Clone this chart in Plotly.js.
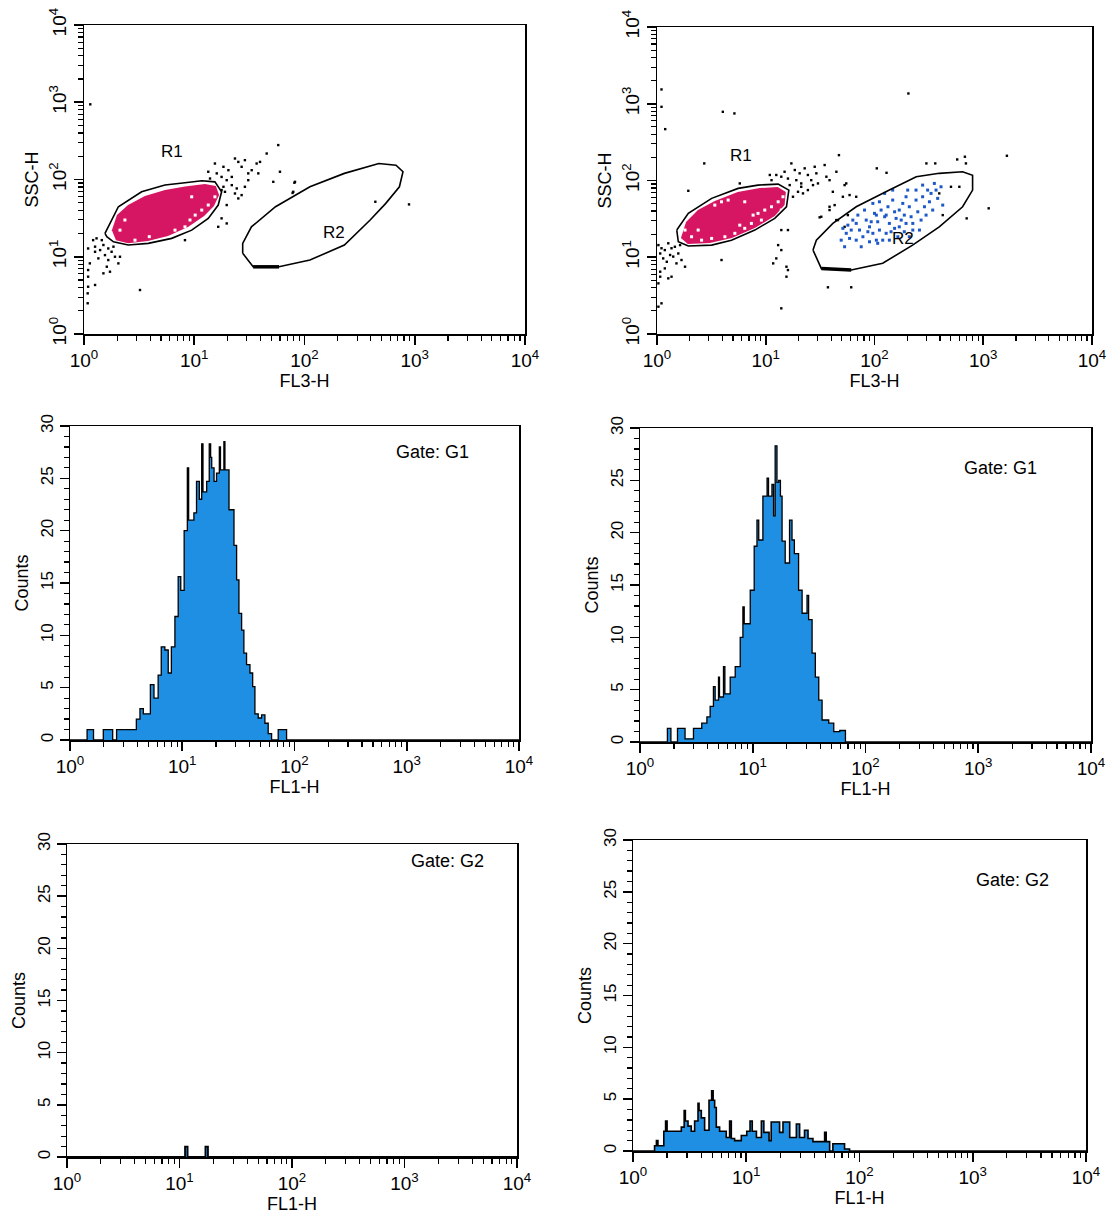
<!DOCTYPE html>
<html><head><meta charset="utf-8">
<script src="https://cdn.plot.ly/plotly-3.0.1.min.js"></script>
<style>html,body{margin:0;padding:0;background:#fff}#chart{width:1119px;height:1214px}</style>
</head><body><div id="chart"></div>
<script>
// ---------- tick labels ----------
const DECADE_VALS = [1, 10, 100, 1000, 10000];
const DECADE_TEXT = ['10<sup>0</sup>', '10<sup>1</sup>', '10<sup>2</sup>', '10<sup>3</sup>', '10<sup>4</sup>'];
const COUNT_VALS = [0, 5, 10, 15, 20, 25, 30];
const COUNT_TEXT = ['0', '5', '10', '15', '20', '25', '30'];
const GATE_LABELS = ['Gate: G1', 'Gate: G1', 'Gate: G2', 'Gate: G2'];

// ---------- panel 1 (FL3-H vs SSC-H) ----------
const P1_R1_X = [1.55, 2.05, 3.33, 5.43, 8.24, 11.7, 15.4, 17.7, 16.5, 13.4, 9.48, 6.24, 3.83, 2.52, 1.85, 1.61];
const P1_R1_Y = [20.1, 44.4, 69.3, 84.7, 90.6, 96.2, 93.3, 69.3, 46.7, 31.4, 22.1, 17.3, 14.9, 14.2, 15.6, 18.2];
const P1_R2_X = [27.5, 34.2, 58.7, 112, 230, 394, 546, 726, 782, 676, 472, 230, 112, 54.6, 33.0, 27.5];
const P1_R2_Y = [11.1, 7.41, 7.41, 9.06, 14.2, 29.9, 49.1, 80.5, 126, 153, 161, 120, 80.5, 44.4, 24.4, 14.9];
const P1_CORE_X = [1.79, 1.99, 2.51, 3.57, 5.43, 8.24, 12.5, 15.7, 16.8, 15.1, 12.3, 8.77, 5.78, 3.80, 2.51, 1.95];
const P1_CORE_Y = [22.1, 34.6, 46.7, 61.0, 72.9, 80.9, 87.2, 82.2, 62.8, 45.3, 33.6, 24.2, 18.5, 16.0, 15.0, 16.4];
const P1_GAP_X = [10.2, 11.7, 13.4, 9.15, 15.4, 6.69, 3.91, 2.35, 2.12, 2.90, 9.48, 8.24];
const P1_GAP_Y = [34.6, 40.2, 46.7, 29.9, 59.7, 22.1, 18.2, 29.9, 22.1, 16.4, 59.7, 24.4];
const P1_DOT_X = [15.4, 18.4, 20.4, 23.4, 25.1, 26.9, 28.8, 30.9, 33.2, 36.8, 38.1, 39.5, 45.4, 57.8, 59.9, 52.1, 82, 79.1,
  17.7, 19.7, 21.9, 24.3, 26.9, 25.1, 19.7, 17.7, 16.5, 19.7, 8.24, 13.4, 13.9, 16.0, 21.9, 30.9, 28.8, 23.4, 17.7, 19, 18.4,
  1.09, 1.21, 1.30, 1.26, 1.40, 1.50, 1.35, 1.55, 1.66, 1.78, 1.91, 1.61, 1.72, 1.50, 1.13, 1.09, 1.09, 1.09, 1.08, 1.08,
  1.26, 2.05, 2.12, 1.66, 3.22, 1.26, 1.45, 1.85, 1.14, 887, 81, 78, 439];
const P1_DOT_Y = [161, 146, 132, 187, 169, 146, 178, 120, 132, 161, 120, 169, 217, 279, 126, 93.3, 93.3, 69.3,
  108, 98, 84.5, 76.6, 62.8, 56.9, 46.7, 31.4, 24.4, 27.0, 16.4, 126, 103, 120, 108, 98, 80.5, 65.9, 73, 69.3, 80.5,
  12.8, 16.4, 17.3, 11.6, 12.2, 14.2, 9.53, 10.5, 9.06, 11.6, 10, 7.43, 6.40, 6.10, 8.21, 6.73, 5.52, 4.09, 3.36, 2.50,
  4.31, 8.21, 10, 12.8, 3.71, 13.5, 16.4, 13.5, 940, 47.6, 90.7, 67, 51.5];
const P1_LABELS = ['R1', 'R2'];
const P1_LABEL_X = [6.24, 185];
const P1_LABEL_Y = [228, 20.3];

// ---------- panel 2 (FL3-H vs SSC-H) ----------
const P2_R1_X = [1.52, 1.94, 3.18, 5.57, 8.49, 13.0, 16.3, 15.5, 12.1, 7.93, 4.84, 3.18, 1.94, 1.57];
const P2_R1_Y = [22.6, 37.3, 58.5, 78.9, 87.1, 89.7, 75.0, 45.5, 32.1, 22.6, 16.7, 14.4, 14.0, 15.9];
const P2_R2_X = [27.2, 32.4, 61.1, 119, 224, 394, 646, 798, 798, 646, 394, 242, 137, 67.9, 41.4, 29.2];
const P2_R2_Y = [12.4, 7.16, 6.81, 8.34, 14.4, 24.9, 45.5, 75.0, 117, 130, 124, 112, 75.0, 45.5, 27.6, 16.7];
const P2_CORE_X = [1.66, 1.85, 2.38, 3.40, 5.53, 8.81, 12.9, 15.3, 14.9, 12.1, 7.93, 4.88, 3.06, 1.92];
const P2_CORE_Y = [17.8, 28.7, 41.2, 53.9, 70.6, 79.6, 82.0, 70.6, 47.8, 34.4, 24.0, 17.8, 15.3, 14.9];
const P2_GAP_X = [8.49, 9.79, 11.3, 13.0, 9.12, 7.38, 6.41, 5.20, 4.21, 3.18, 2.57, 2.08, 1.81, 2.39, 3.40, 3.92, 4.51,
  6.41, 13.9, 14.4, 7.65, 5.77];
const P2_GAP_Y = [37.3, 41.2, 45.5, 52.8, 30.5, 27.6, 23.8, 20.5, 18.5, 17.6, 16.7, 18.5, 22.6, 22.6, 47.8, 52.8, 55.6,
  52.8, 41.2, 61.4, 35.4, 26.2];
const P2_DOT_X = [11.3, 12.5, 13.9, 14.9, 16.0, 17.2, 18.5, 19.1, 20.5, 21.2, 22.8, 24.4, 26.2, 28.2, 29.2, 30.2, 34.8, 36.1,
  38.6, 44.6, 19.8, 22.0, 24.4, 17.8, 21.2, 27.2, 10.9, 16.6,
  2.72, 1.94, 5.77, 47.1, 53.1, 59.0, 67.9, 31.3, 38.6, 43.0, 46.1, 53.1, 13.9, 16.0, 13.0, 13.9, 12.5, 11.7, 15.5, 16.0,
  15.5, 13.9, 3.92, 37.3, 61.1,
  1.03, 1.10, 1.07, 1.18, 1.27, 1.36, 1.14, 1.23, 1.41, 1.51, 1.57, 1.68, 1.81, 1.18, 1.07, 1.07, 1.27, 1.36, 1.03, 1.10,
  1.03, 1.46, 1.63, 1.32,
  1.10, 1.19, 1.10, 4.03, 5.15, 205, 1650, 1122, 704, 576, 678, 300, 362, 105, 129, 693,
  41.4, 51.2, 55, 38.6, 32.4, 44.5, 56.9, 394, 424, 505, 603];
const P2_DOT_Y = [101, 118, 112, 130, 106, 167, 137, 101, 124, 91.6, 144, 118, 101, 151, 124, 91.6, 159, 112,
  101, 130, 71.3, 67.9, 75, 61.4, 82.8, 87.1, 118, 87.1,
  167, 73.4, 91.6, 214, 87.1, 64.6, 61.4, 33.1, 41.2, 47.8, 30.5, 24.9, 22.6, 22.6, 14.4, 12.4, 9.66, 8.32, 7.53, 6.81,
  5.58, 2.16, 9.2, 4.06, 4.06,
  14.4, 13.1, 11.2, 12.4, 15.2, 13.1, 9.66, 8.73, 10.2, 8.32, 11.2, 9.2, 7.53, 7.16, 6.48, 5.58, 5.31, 5.58, 4.57, 2.51,
  2.27, 13.7, 14.4, 10.7,
  1536, 467, 912, 785, 748, 1361, 210, 43.4, 32.1, 188, 204, 167, 167, 144, 126, 167,
  71.3, 61.4, 91.6, 45.5, 33.7, 30.5, 35.4, 67.9, 35.4, 82.8, 82.8];
const P2_BLUE_X = [51.2, 55.0, 59.0, 67.9, 72.8, 78.2, 83.9, 90.0, 96.6, 100, 107, 111, 119, 124, 133, 137, 142, 153, 158,
  169, 182, 188, 195, 209, 217, 225, 241, 250, 268, 277, 288, 298, 320, 331, 343, 368, 381, 409, 424, 111, 96.6, 81.0,
  70.3, 63.2, 56.9, 49.4, 53.1, 75.5, 90.0, 107, 137, 164, 188, 225, 259, 195, 169, 147, 128, 115, 104, 86.9, 67.9, 61.1,
  308, 241, 202, 277, 355, 147, 124, 176, 153, 104, 93.3, 128, 209];
const P2_BLUE_Y = [23.8, 20.5, 17.6, 27.6, 22.6, 18.5, 30.5, 24.9, 20.5, 37.3, 29.0, 22.6, 16.7, 33.7, 45.5, 27.6, 21.5,
  39.1, 32.1, 24.9, 50.3, 35.4, 27.6, 45.5, 33.7, 22.6, 55.6, 39.1, 30.5, 61.4, 45.5, 35.4, 52.8, 67.9, 41.2, 75.0, 58.5,
  82.8, 47.8, 52.8, 50.3, 41.2, 35.4, 30.5, 26.2, 16.7, 13.7, 13.7, 15.9, 15.2, 16.7, 18.5, 21.5, 27.6, 22.6, 61.4, 41.2,
  55.6, 20.5, 41.2, 16.7, 21.5, 16.7, 22.6, 75.0, 75.0, 75.0, 87.1, 91.6, 75.0, 67.9, 30.5, 23.8, 35.4, 29.0, 35.4, 18.5];
const P2_LABELS = ['R1', 'R2'];
const P2_LABEL_X = [5.98, 181];
const P2_LABEL_Y = [214, 17.8];

// ---------- histograms (FL1-H vs Counts) ----------
const H1_X = [1, 1.42, 1.62, 1.98, 2.4, 2.6, 3.9, 4.2, 4.5, 5.2, 5.6, 6.1, 6.5, 7.0, 7.5, 8.0, 8.6, 9.2, 9.7, 10.4,
  11.1, 11.4, 11.9, 12.7, 13.4, 14.2, 14.9, 15.3, 16.5, 17.4, 17.9, 18.3, 19.2, 20.2, 21.4, 21.9, 22.4, 23.5, 24.0, 26.1,
  28.9, 30.5, 32.0, 33.8, 35.4, 37.4, 40.1, 42.4, 44.4, 47.5, 50.9, 54.5, 58.3, 62.5, 71.6, 85, 10000];
const H1_Y = [0, 1, 0, 1, 0, 1, 2, 3, 2.5, 5.3, 4, 6.2, 8.9, 8.6, 6.4, 8.9, 11.8, 15.6, 14.3, 20,
  26, 21, 21, 21.7, 24.7, 23, 28.3, 23.7, 24.7, 28.3, 27, 26, 24.7, 25.5, 28, 25.8, 25.8, 28.5, 25.8, 22,
  18.6, 15.3, 12.1, 10.5, 8.3, 7.2, 6.4, 5.1, 2.5, 2.1, 2.4, 1.6, 0.6, 0, 1, 0, 0];
const H2_X = [1, 1.75, 1.88, 2.15, 2.51, 2.98, 3.53, 3.92, 4.19, 4.48, 4.64, 4.97, 5.07, 5.5, 5.66, 6.31, 6.99, 7.74,
  8.18, 8.4, 9.5, 10.3, 10.9, 11.3, 12.3, 13.4, 13.8, 14.8, 15.3, 15.8, 16.4, 17.0, 17.6, 18.2, 19.4, 21.2, 22.3, 23.4,
  25.5, 27.4, 30.3, 31.3, 33.6, 35.9, 38.5, 41.2, 45.6, 47.2, 52.3, 59.1, 66.4, 10000];
const H2_Y = [0, 1.3, 0, 1.3, 0.3, 1.3, 1.8, 2.4, 3.4, 5.3, 4, 6.2, 4.3, 7.2, 4.6, 6.2, 7.2, 10,
  12.9, 11.3, 14.5, 18.7, 21.2, 19.3, 23.5, 25.2, 23.5, 24.6, 21.6, 28.3, 24.8, 25, 23.5, 19.2, 17.1, 21.2, 19.3, 18,
  14.5, 12.3, 14, 11.7, 8.5, 6.2, 4, 2.1, 2.1, 1.8, 1, 1.1, 0, 0];
const H3_X = [1, 11.2, 11.8, 17.0, 17.9, 10000];
const H3_Y = [0, 1, 0, 1, 0, 0];
const H4_X = [1, 1.55, 1.61, 1.66, 1.87, 1.94, 2.0, 2.67, 2.83, 2.9, 3.06, 3.27, 3.5, 3.75, 3.83, 4.01, 4.29, 4.69, 4.95,
  5.1, 5.26, 5.44, 5.82, 6.66, 7.13, 7.38, 7.89, 9.04, 10.1, 10.8, 11.3, 12.3, 13.6, 14.3, 15.9, 16.6, 19.7, 21.1, 24.2,
  27.7, 29.6, 32.7, 35.1, 38.8, 49.2, 50.8, 54.5, 58.2, 73.8, 81.7, 10000];
const H4_Y = [0, 0.5, 1, 0.5, 1.9, 2.9, 1.9, 2.3, 3.9, 2.9, 2.4, 1.9, 2.9, 4.6, 3.9, 3.2, 2, 4.9, 5.8,
  4.9, 4.2, 2.3, 1.9, 1.3, 2.9, 1.2, 1, 1.5, 1.9, 2.9, 1.9, 1.3, 2.9, 1.8, 1, 2.8, 1.8, 2.8, 1.3,
  2.6, 1.3, 2, 1.2, 0.9, 1.8, 0.9, 0, 0.7, 0.2, 0, 0];

// ---------- styling / layout ----------
const W = 1119, H = 1214;
const FONT = 'Arial, "Liberation Sans", sans-serif';
const PINK = 'rgb(214,22,98)';
const BLUEDOT = 'rgb(28,88,200)';
const HISTBLUE = 'rgb(30,143,226)';
// pixel boxes [left, right, top, bottom]
const BOX = [[84, 525, 25, 334], [657, 1092, 27, 334], [70, 519, 426, 740],
             [640, 1091, 428, 742], [67, 517, 844, 1157], [633, 1086, 840, 1151]];
const GATE_POS = [[432, 452], [1000, 468], [447, 861], [1012, 880]];

const MINOR_LOG = [];
[1, 10, 100, 1000].forEach(d => { for (let k = 2; k <= 9; k++) MINOR_LOG.push(k * d); });

function axName(i) { return i === 1 ? '' : String(i); }
function closed(a) { return a.concat([a[0]]); }

const traces = [];
function scatterPanel(i, core, gap, r1, r2, dots, blue) {
  const xa = 'x' + axName(i), ya = 'y' + axName(i);
  traces.push({x: core[0], y: core[1], xaxis: xa, yaxis: ya, mode: 'none', fill: 'toself',
    fillcolor: PINK, hoverinfo: 'skip', showlegend: false});
  traces.push({x: gap[0], y: gap[1], xaxis: xa, yaxis: ya, mode: 'markers',
    marker: {color: '#fff', size: 3, symbol: 'square'}, hoverinfo: 'skip', showlegend: false});
  traces.push({x: dots[0], y: dots[1], xaxis: xa, yaxis: ya, mode: 'markers',
    marker: {color: '#000', size: 2.4, symbol: 'square'}, hoverinfo: 'skip', showlegend: false});
  if (blue) traces.push({x: blue[0], y: blue[1], xaxis: xa, yaxis: ya, mode: 'markers',
    marker: {color: BLUEDOT, size: 3, symbol: 'square'}, hoverinfo: 'skip', showlegend: false});
  [r1, r2].forEach(g => traces.push({x: closed(g[0]), y: closed(g[1]), xaxis: xa, yaxis: ya, mode: 'lines',
    line: {color: '#000', width: 1.6}, hoverinfo: 'skip', showlegend: false}));
  // heavier flat bottom edge of the R2 gate
  traces.push({x: r2[0].slice(1, 3), y: r2[1].slice(1, 3), xaxis: xa, yaxis: ya, mode: 'lines',
    line: {color: '#000', width: 3.5}, hoverinfo: 'skip', showlegend: false});
}
scatterPanel(1, [P1_CORE_X, P1_CORE_Y], [P1_GAP_X, P1_GAP_Y], [P1_R1_X, P1_R1_Y], [P1_R2_X, P1_R2_Y],
  [P1_DOT_X, P1_DOT_Y], null);
scatterPanel(2, [P2_CORE_X, P2_CORE_Y], [P2_GAP_X, P2_GAP_Y], [P2_R1_X, P2_R1_Y], [P2_R2_X, P2_R2_Y],
  [P2_DOT_X, P2_DOT_Y], [P2_BLUE_X, P2_BLUE_Y]);

const HISTS = [[H1_X, H1_Y, 1.3], [H2_X, H2_Y, 1.3], [H3_X, H3_Y, 1.8], [H4_X, H4_Y, 1.6]];
HISTS.forEach((h, k) => {
  const i = k + 3;
  traces.push({x: h[0], y: h[1], xaxis: 'x' + axName(i), yaxis: 'y' + axName(i), mode: 'lines',
    line: {shape: 'hv', color: '#000', width: h[2]}, fill: 'tozeroy', fillcolor: HISTBLUE,
    hoverinfo: 'skip', showlegend: false});
});

const layout = {width: W, height: H, margin: {l: 0, r: 0, t: 0, b: 0},
  paper_bgcolor: '#fff', plot_bgcolor: '#fff', showlegend: false, annotations: []};

const MINOR_STYLE = {ticks: 'outside', ticklen: 5, tickwidth: 1.2, tickcolor: '#000'};
function baseAxis() {
  return {showline: true, linecolor: '#000', linewidth: 1.5, mirror: true, showgrid: false, zeroline: false,
    ticks: 'outside', ticklen: 9, tickwidth: 1.6, tickcolor: '#000',
    tickfont: {family: FONT, size: 19, color: '#000'}};
}
BOX.forEach((b, k) => {
  const i = k + 1, n = axName(i);
  const xd = [b[0] / W, b[1] / W], yd = [1 - b[3] / H, 1 - b[2] / H];
  const xa = Object.assign(baseAxis(), {type: 'log', range: [0, 4], domain: xd, anchor: 'y' + n,
    tickmode: 'array', tickvals: DECADE_VALS, ticktext: DECADE_TEXT,
    minor: Object.assign({tickmode: 'array', tickvals: MINOR_LOG}, MINOR_STYLE),
    title: {text: i <= 2 ? 'FL3-H' : 'FL1-H', font: {family: FONT, size: 18, color: '#000'}, standoff: 0}});
  let ya;
  if (i <= 2) {
    ya = Object.assign(baseAxis(), {type: 'log', range: [0, 4], domain: yd, anchor: 'x' + n,
      tickmode: 'array', tickvals: DECADE_VALS, ticktext: DECADE_TEXT, tickangle: -90,
      minor: Object.assign({tickmode: 'array', tickvals: MINOR_LOG}, MINOR_STYLE),
      title: {text: 'SSC-H', font: {family: FONT, size: 18, color: '#000'}, standoff: 2}});
  } else {
    ya = Object.assign(baseAxis(), {range: [0, 30], domain: yd, anchor: 'x' + n,
      tickmode: 'array', tickvals: COUNT_VALS, ticktext: COUNT_TEXT, tickangle: -90,
      minor: Object.assign({tickmode: 'linear', tick0: 0, dtick: 1}, MINOR_STYLE),
      tickfont: {family: FONT, size: 17, color: '#000'},
      title: {text: 'Counts', font: {family: FONT, size: 18, color: '#000'}, standoff: 4}});
  }
  layout['xaxis' + n] = xa;
  layout['yaxis' + n] = ya;
});

// region labels
[[P1_LABELS, P1_LABEL_X, P1_LABEL_Y, ''], [P2_LABELS, P2_LABEL_X, P2_LABEL_Y, '2']].forEach(p => {
  p[0].forEach((t, j) => layout.annotations.push({text: t, xref: 'x' + p[3], yref: 'y' + p[3],
    x: Math.log10(p[1][j]), y: Math.log10(p[2][j]), showarrow: false, xanchor: 'center', yanchor: 'middle',
    font: {family: FONT, size: 17, color: '#000'}}));
});
// gate labels
GATE_LABELS.forEach((t, j) => layout.annotations.push({text: t, xref: 'paper', yref: 'paper',
  x: GATE_POS[j][0] / W, y: 1 - GATE_POS[j][1] / H, showarrow: false, xanchor: 'center', yanchor: 'middle',
  font: {family: FONT, size: 18, color: '#000'}}));

Plotly.newPlot('chart', traces, layout, {staticPlot: true, displayModeBar: false});
</script></body></html>
